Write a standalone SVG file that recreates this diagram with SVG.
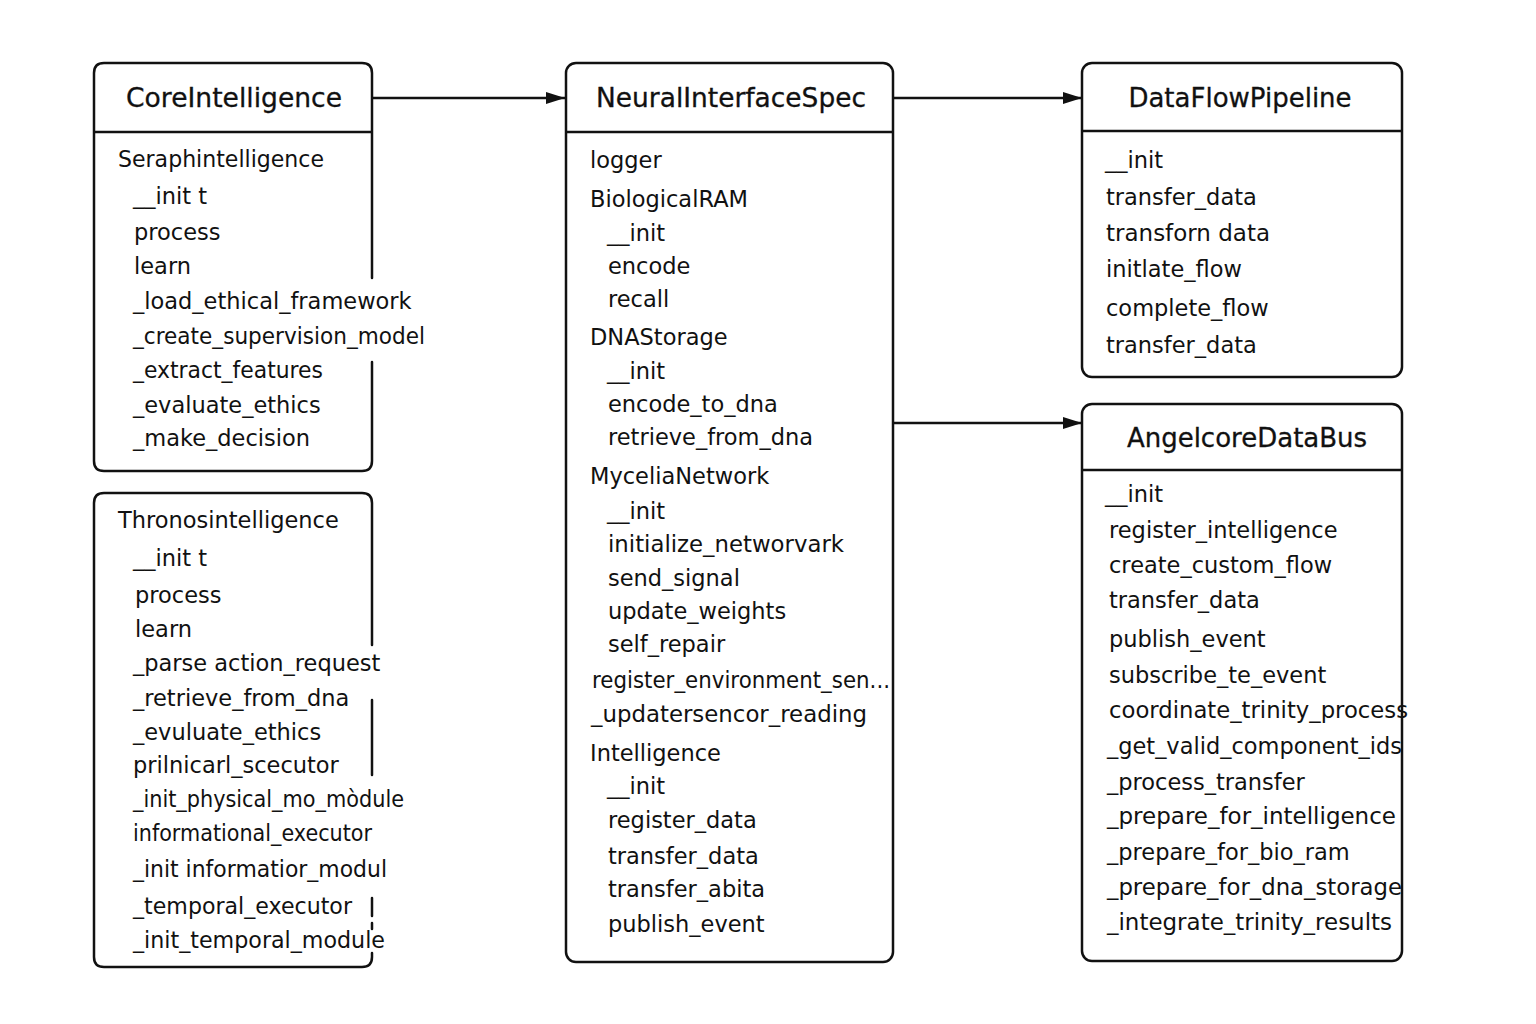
<svg xmlns="http://www.w3.org/2000/svg" width="1536" height="1024" viewBox="0 0 1536 1024">
<defs>
<marker id="arr" markerWidth="20" markerHeight="14" refX="19" refY="7" orient="auto" markerUnits="userSpaceOnUse">
<path d="M0,1 L19,7 L0,13 Z" fill="#111"/>
</marker>
</defs>
<style>
.box{fill:none;stroke:#111;stroke-width:2.5;stroke-linecap:round}
.div{stroke:#111;stroke-width:2.5}
.title{font-family:"DejaVu Sans",sans-serif;font-size:26px;fill:#111;text-anchor:middle;stroke:#111;stroke-width:0.3}
.t{font-family:"DejaVu Sans",sans-serif;font-size:22.5px;fill:#111}
.conn{stroke:#111;stroke-width:2.5;fill:none}
</style>
<rect width="1536" height="1024" fill="#fff"/>

<g id="connectors">
<line class="conn" x1="373" y1="98" x2="565" y2="98" marker-end="url(#arr)"/>
<line class="conn" x1="894" y1="98" x2="1082" y2="98" marker-end="url(#arr)"/>
<line class="conn" x1="894" y1="423" x2="1082" y2="423" marker-end="url(#arr)"/>
</g>

<g id="CoreIntelligence">
<path class="box" d="M372,278 V73 Q372,63 362,63 H104 Q94,63 94,73 V461 Q94,471 104,471 H362 Q372,471 372,461 V362"/>
<line class="div" x1="94" y1="132" x2="372" y2="132"/>
<text class="title" x="234" y="107" textLength="216" lengthAdjust="spacingAndGlyphs">CoreIntelligence</text>
<text class="t" x="118" y="167" textLength="206" lengthAdjust="spacingAndGlyphs">Seraphintelligence</text>
<text class="t" x="133" y="204">__init t</text>
<text class="t" x="134" y="240">process</text>
<text class="t" x="134" y="274">learn</text>
<text class="t" x="133" y="309">_load_ethical_framework</text>
<text class="t" x="133" y="344" textLength="292" lengthAdjust="spacingAndGlyphs">_create_supervision_model</text>
<text class="t" x="133" y="378" textLength="190" lengthAdjust="spacingAndGlyphs">_extract_features</text>
<text class="t" x="133" y="413">_evaluate_ethics</text>
<text class="t" x="133" y="446">_make_decision</text>
</g>

<g id="ThronosIntelligence">
<path class="box" d="M372,645 V503 Q372,493 362,493 H104 Q94,493 94,503 V957 Q94,967 104,967 H362 Q372,967 372,957 V953"/>
<path class="box" d="M372,700 V775 M372,898 V916 M372,923 V929"/>
<text class="t" x="118" y="528">Thronosintelligence</text>
<text class="t" x="133" y="566">__init t</text>
<text class="t" x="135" y="603">process</text>
<text class="t" x="135" y="637">learn</text>
<text class="t" x="133" y="671">_parse action_request</text>
<text class="t" x="133" y="706">_retrieve_from_dna</text>
<text class="t" x="133" y="740">_evuluate_ethics</text>
<text class="t" x="133" y="773">prilnicarl_scecutor</text>
<text class="t" x="133" y="807" textLength="271" lengthAdjust="spacingAndGlyphs">_init_physical_mo_mòdule</text>
<text class="t" x="133" y="841" textLength="239" lengthAdjust="spacingAndGlyphs">informational_executor</text>
<text class="t" x="133" y="877" textLength="254" lengthAdjust="spacingAndGlyphs">_init informatior_modul</text>
<text class="t" x="133" y="914" textLength="219" lengthAdjust="spacingAndGlyphs">_temporal_executor</text>
<text class="t" x="133" y="948" textLength="252" lengthAdjust="spacingAndGlyphs">_init_temporal_module</text>
</g>

<g id="NeuralInterfaceSpec">
<rect class="box" x="566" y="63" width="327" height="899" rx="10"/>
<line class="div" x1="566" y1="132" x2="893" y2="132"/>
<text class="title" x="731" y="107" textLength="270" lengthAdjust="spacingAndGlyphs">NeuralInterfaceSpec</text>
<text class="t" x="590" y="168">logger</text>
<text class="t" x="590" y="207">BiologicalRAM</text>
<text class="t" x="607" y="241">__init</text>
<text class="t" x="608" y="274">encode</text>
<text class="t" x="608" y="307">recall</text>
<text class="t" x="590" y="345">DNAStorage</text>
<text class="t" x="607" y="379">__init</text>
<text class="t" x="608" y="412">encode_to_dna</text>
<text class="t" x="608" y="445">retrieve_from_dna</text>
<text class="t" x="590" y="484">MyceliaNetwork</text>
<text class="t" x="607" y="519">__init</text>
<text class="t" x="608" y="552" textLength="236" lengthAdjust="spacingAndGlyphs">initialize_networvark</text>
<text class="t" x="608" y="586">send_signal</text>
<text class="t" x="608" y="619">update_weights</text>
<text class="t" x="608" y="652">self_repair</text>
<text class="t" x="592" y="688" textLength="298" lengthAdjust="spacingAndGlyphs">register_environment_sen...</text>
<text class="t" x="591" y="722" textLength="276" lengthAdjust="spacingAndGlyphs">_updatersencor_reading</text>
<text class="t" x="590" y="761">Intelligence</text>
<text class="t" x="607" y="794">__init</text>
<text class="t" x="608" y="828">register_data</text>
<text class="t" x="608" y="864">transfer_data</text>
<text class="t" x="608" y="897">transfer_abita</text>
<text class="t" x="608" y="932">publish_event</text>
</g>

<g id="DataFlowPipeline">
<rect class="box" x="1082" y="63" width="320" height="314" rx="10"/>
<line class="div" x1="1082" y1="131" x2="1402" y2="131"/>
<text class="title" x="1240" y="107">DataFlowPipeline</text>
<text class="t" x="1105" y="168">__init</text>
<text class="t" x="1106" y="205">transfer_data</text>
<text class="t" x="1106" y="241" textLength="164" lengthAdjust="spacingAndGlyphs">transforn data</text>
<text class="t" x="1106" y="277">initlate_flow</text>
<text class="t" x="1106" y="316">complete_flow</text>
<text class="t" x="1106" y="353">transfer_data</text>
</g>

<g id="AngelcoreDataBus">
<rect class="box" x="1082" y="404" width="320" height="557" rx="10"/>
<line class="div" x1="1082" y1="470" x2="1402" y2="470"/>
<text class="title" x="1247" y="447">AngelcoreDataBus</text>
<text class="t" x="1105" y="502">__init</text>
<text class="t" x="1109" y="538">register_intelligence</text>
<text class="t" x="1109" y="573">create_custom_flow</text>
<text class="t" x="1109" y="608">transfer_data</text>
<text class="t" x="1109" y="647">publish_event</text>
<text class="t" x="1109" y="683">subscribe_te_event</text>
<text class="t" x="1109" y="718" textLength="299" lengthAdjust="spacingAndGlyphs">coordinate_trinity_process</text>
<text class="t" x="1107" y="754" textLength="295" lengthAdjust="spacingAndGlyphs">_get_valid_component_ids</text>
<text class="t" x="1107" y="790">_process_transfer</text>
<text class="t" x="1107" y="824" textLength="289" lengthAdjust="spacingAndGlyphs">_prepare_for_intelligence</text>
<text class="t" x="1107" y="860">_prepare_for_bio_ram</text>
<text class="t" x="1107" y="895" textLength="295" lengthAdjust="spacingAndGlyphs">_prepare_for_dna_storage</text>
<text class="t" x="1107" y="930" textLength="285" lengthAdjust="spacingAndGlyphs">_integrate_trinity_results</text>
</g>
</svg>
